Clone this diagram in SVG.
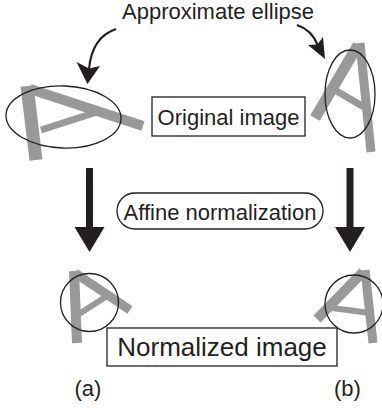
<svg xmlns="http://www.w3.org/2000/svg" width="382" height="412" viewBox="0 0 382 412">
<style>
.lbl{font-family:"Liberation Sans",Arial,Helvetica,sans-serif;fill:#231f20;text-anchor:middle}
.img{stroke:#999999;fill:none;stroke-linecap:butt}
.ell{fill:none;stroke:#231f20;stroke-width:1.3}
.box{fill:#ffffff;stroke:#231f20;stroke-width:1.3}
.shaft{fill:none;stroke:#231f20}
.head{fill:#231f20;stroke:none}
</style>
<rect width="382" height="412" fill="#ffffff"/>

<g id="original-a">
  <line class="img" x1="27" y1="86" x2="36" y2="160" stroke-width="13"/>
  <line class="img" x1="30" y1="89" x2="143" y2="126" stroke-width="10"/>
  <line class="img" x1="41" y1="130" x2="97" y2="112" stroke-width="7"/>
  <ellipse class="ell" cx="63.5" cy="117" rx="57.5" ry="31" transform="rotate(2 63.5 117)"/>
</g>

<g id="original-b">
  <line class="img" x1="358" y1="45" x2="315" y2="118" stroke-width="11"/>
  <line class="img" x1="360" y1="43" x2="371" y2="152" stroke-width="9"/>
  <line class="img" x1="333" y1="89" x2="364" y2="107" stroke-width="7"/>
  <ellipse class="ell" cx="350" cy="94" rx="25" ry="44"/>
</g>

<g id="normalized-a">
  <line class="img" x1="74" y1="271" x2="77" y2="343" stroke-width="10"/>
  <line class="img" x1="75" y1="273" x2="130" y2="310" stroke-width="9"/>
  <line class="img" x1="79" y1="314" x2="107" y2="296" stroke-width="6"/>
  <circle class="ell" cx="89.5" cy="302.5" r="29"/>
</g>

<g id="normalized-b">
  <line class="img" x1="363" y1="272" x2="317" y2="319" stroke-width="10"/>
  <line class="img" x1="365" y1="270" x2="373" y2="343" stroke-width="9"/>
  <line class="img" x1="332" y1="308" x2="370" y2="313" stroke-width="6"/>
  <circle class="ell" cx="354" cy="304" r="29"/>
</g>

<g id="approximate-ellipse-label">
  <text class="lbl" x="218" y="18.5" font-size="22">Approximate ellipse</text>
</g>

<g id="original-image-label">
  <rect class="box" x="152" y="97" width="153" height="39"/>
  <text class="lbl" x="228.5" y="125" font-size="22">Original image</text>
</g>

<g id="affine-normalization-label">
  <rect class="box" x="117" y="193" width="206" height="36" rx="18" ry="18"/>
  <text class="lbl" x="220" y="220" font-size="22">Affine normalization</text>
</g>

<g id="normalized-image-label">
  <rect class="box" x="107" y="328" width="230" height="38"/>
  <text class="lbl" x="222" y="356" font-size="26">Normalized image</text>
</g>

<g id="caption-a">
  <text class="lbl" x="88" y="396" font-size="22">(a)</text>
</g>
<g id="caption-b">
  <text class="lbl" x="347.5" y="396" font-size="22">(b)</text>
</g>

<g id="connectors">
  <path class="shaft" d="M116,29 Q92,37 89,69" stroke-width="2.2"/>
  <path class="head" d="M87.5,84 L76.5,62 L89,68.5 L100,66 Z"/>
  <path class="shaft" d="M297,25 Q312,30 317.5,45" stroke-width="2.2"/>
  <path class="head" d="M325,59 L308,45 L317.4,44.5 L323,37 Z"/>
  <path class="shaft" d="M89.5,168 L89.5,229" stroke-width="7"/>
  <path class="head" d="M74.5,227 L104.5,227 L89.5,252 Z"/>
  <path class="shaft" d="M350,168 L350,229" stroke-width="7"/>
  <path class="head" d="M335,227 L365,227 L350,252 Z"/>
</g>
</svg>
